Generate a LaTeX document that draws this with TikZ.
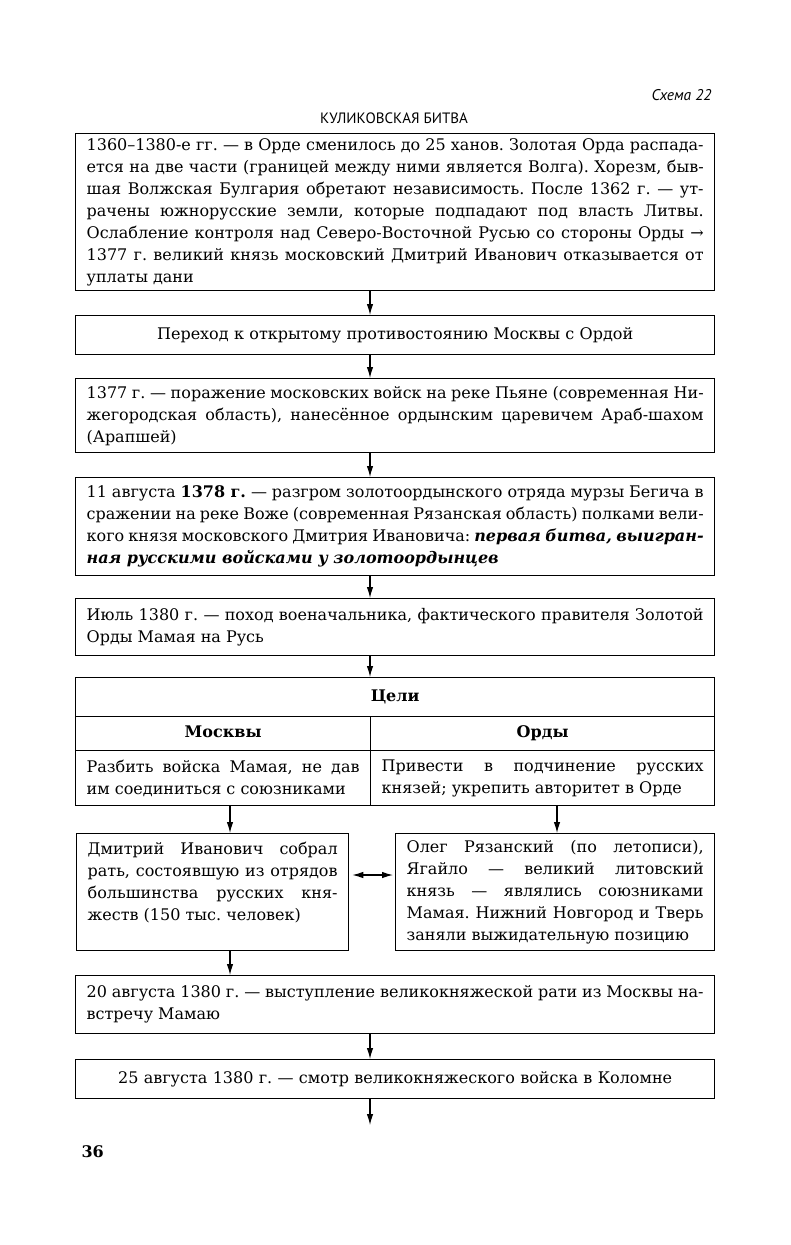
\documentclass[tikz,border=0pt]{standalone}
\usepackage{fontspec}
\setmainfont{DejaVu Serif}
\setsansfont{PT Sans}
\usetikzlibrary{arrows.meta}
\newcommand\bodyfs{\fontsize{16}{22}\selectfont\frenchspacing}
\begin{document}
\begin{tikzpicture}[x=1pt,y=-1pt,
  box/.style={draw,line width=1.3pt,anchor=north west,inner xsep=11pt,inner ysep=0pt,align=justify,font=\bodyfs},
  cbox/.style={box,align=center},
  hbox/.style={cbox,text height=12pt,text depth=4pt,font=\bodyfs\bfseries},
  arr/.style={line width=1.1pt,-{Latex[length=11pt,width=6.5pt]}},
  darr/.style={line width=1.1pt,{Latex[length=11pt,width=6.5pt]}-{Latex[length=11pt,width=6.5pt]}},
]
\useasboundingbox (0,0) rectangle (791,1245);
\coordinate (ax) at (370,0);
\coordinate (lx) at (230,0);
\coordinate (rx) at (557,0);
\coordinate (dy) at (0,875);
\coordinate (endp) at (370,1125);

\node[anchor=east,font=\sffamily\itshape\fontsize{15.5}{17}\selectfont] (sch) at (715,95) {Схема 22};
\node[font=\sffamily\fontsize{15}{17}\selectfont] (ttl) at (394,118) {КУЛИКОВСКАЯ БИТВА};

\node[box,minimum width=639pt,minimum height=157pt,text width=617pt] (b1) at (75,133)
{1360–1380-е гг. — в Орде сменилось до 25 ханов. Золотая Орда распада-\linebreak
ется на две части (границей между ними является Волга). Хорезм, быв-\linebreak
шая Волжская Булгария обретают независимость. После 1362 г. — ут-\linebreak
рачены южнорусские земли, которые подпадают под власть Литвы.\linebreak
Ослабление контроля над Северо-Восточной Русью со стороны Орды →\linebreak
1377 г. великий князь московский Дмитрий Иванович отказывается от\linebreak
уплаты дани};

\node[cbox,minimum width=639pt,minimum height=39pt,text width=617pt] (b2) at (75,315)
{Переход к открытому противостоянию Москвы с Ордой};

\node[box,minimum width=639pt,minimum height=74pt,text width=617pt] (b3) at (75,378)
{1377 г. — поражение московских войск на реке Пьяне (современная Ни-\linebreak
жегородская область), нанесённое ордынским царевичем Араб-шахом\linebreak
(Арапшей)};

\node[box,minimum width=639pt,minimum height=98pt,text width=617pt] (b4) at (75,477)
{11 августа \textbf{1378 г.} — разгром золотоордынского отряда мурзы Бегича в\linebreak
сражении на реке Воже (современная Рязанская область) полками вели-\linebreak
кого князя московского Дмитрия Ивановича: \textbf{\textit{первая битва, выигран-\linebreak
ная русскими войсками у золотоордынцев}}};

\node[box,minimum width=639pt,minimum height=57pt,text width=617pt] (b5) at (75,598)
{Июль 1380 г. — поход военачальника, фактического правителя Золотой\linebreak
Орды Мамая на Русь};

\node[hbox,minimum width=639pt,minimum height=39pt,text width=617pt] (goal) at (75,677) {Цели};
\node[hbox,minimum width=295pt,minimum height=34pt,text width=273pt] (hm) at (75,716) {Москвы};
\node[hbox,minimum width=344pt,minimum height=34pt,text width=322pt] (ho) at (370,716) {Орды};
\node[box,minimum width=295pt,minimum height=55pt,text width=273pt] (cm) at (75,750)
{Разбить войска Мамая, не дав\linebreak им соединиться с союзниками};
\node[box,minimum width=344pt,minimum height=55pt,text width=322pt] (co) at (370,750)
{Привести в подчинение русских\linebreak князей; укрепить авторитет в Орде};

\node[box,minimum width=272pt,minimum height=117pt,text width=250pt] (lb) at (76,833)
{Дмитрий Иванович собрал\linebreak
рать, состоявшую из отрядов\linebreak
большинства русских кня-\linebreak
жеств (150 тыс. человек)\\ \mbox{}};

\node[box,minimum width=319pt,minimum height=117pt,text width=297pt] (rb) at (395,833)
{Олег Рязанский (по летописи),\linebreak
Ягайло — великий литовский\linebreak
князь — являлись союзниками\linebreak
Мамая. Нижний Новгород и Тверь\linebreak
заняли выжидательную позицию};

\node[box,minimum width=639pt,minimum height=58pt,text width=617pt] (b6) at (75,975)
{20 августа 1380 г. — выступление великокняжеской рати из Москвы на-\linebreak
встречу Мамаю};

\node[cbox,minimum width=639pt,minimum height=39pt,text width=617pt] (b7) at (75,1059)
{25 августа 1380 г. — смотр великокняжеского войска в Коломне};

\node[anchor=west,font=\fontsize{16}{18}\selectfont\bfseries] (pg) at (78,1152) {36};

\draw[arr] (b1.south -| ax) -- (b2.north -| ax);
\draw[arr] (b2.south -| ax) -- (b3.north -| ax);
\draw[arr] (b3.south -| ax) -- (b4.north -| ax);
\draw[arr] (b4.south -| ax) -- (b5.north -| ax);
\draw[arr] (b5.south -| ax) -- (goal.north -| ax);
\draw[arr] (cm.south -| lx) -- (lb.north -| lx);
\draw[arr] (co.south -| rx) -- (rb.north -| rx);
\draw[darr,shorten <=3pt,shorten >=2pt] (lb.east |- dy) -- (rb.west |- dy);
\draw[arr] (lb.south -| lx) -- (b6.north -| lx);
\draw[arr] (b6.south -| ax) -- (b7.north -| ax);
\draw[arr] (b7.south -| ax) -- (endp);
\end{tikzpicture}
\end{document}
